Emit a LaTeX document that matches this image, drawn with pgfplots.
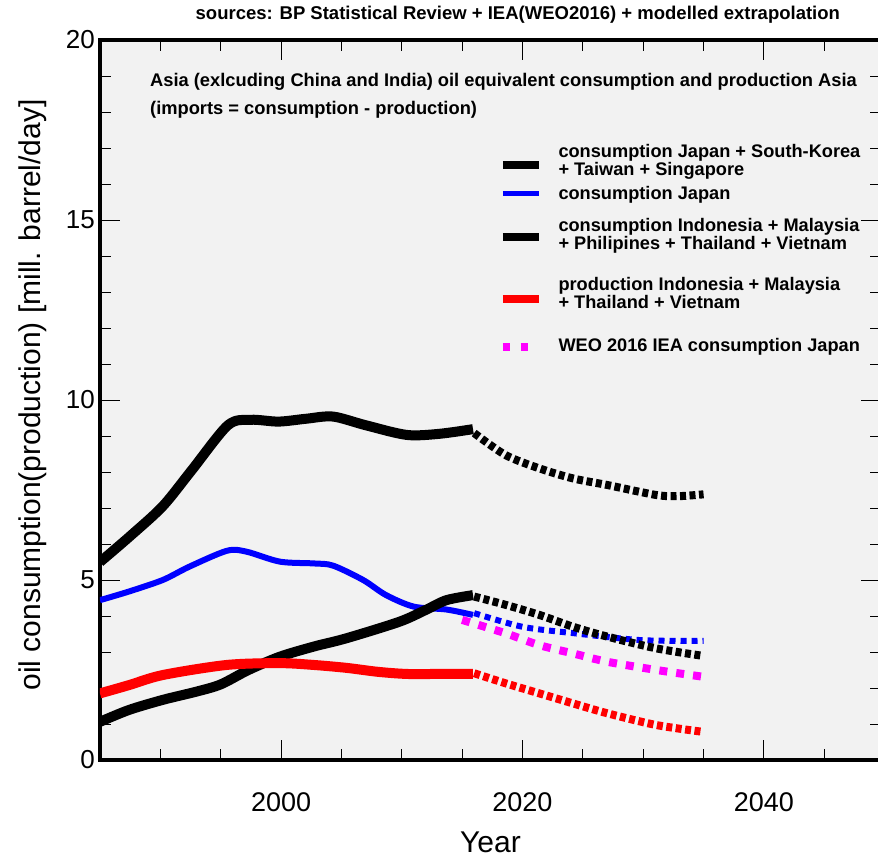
\documentclass[border=0pt]{standalone}
\usepackage{fontspec}
\setmainfont{Liberation Sans}
\usepackage{pgfplots}
\pgfplotsset{compat=1.18}
\definecolor{bgc}{RGB}{242,242,242}
\definecolor{mag}{RGB}{255,0,255}
\newcommand{\legfont}{\fontsize{18.2}{17.5}\selectfont\bfseries}
\begin{document}
\begin{tikzpicture}
\useasboundingbox (-100pt,-98pt) rectangle (778pt,760pt);
\begin{axis}[
  at={(0pt,0pt)}, anchor=south west,
  scale only axis, width=781pt, height=720pt,
  xmin=1985, xmax=2049.7, ymin=0, ymax=20,
  /pgf/number format/assume math mode=true,
  /pgf/number format/1000 sep={},
  axis background/.style={fill=bgc},
  axis line style={line width=4pt},
  tick align=inside,
  tick style={black, line width=0.9pt},
  major tick length=20pt, minor tick length=11pt,
  xtick={2000,2020,2040},
  minor xtick={1990,1995,2005,2010,2015,2025,2030,2035,2045},
  ytick={0,5,10,15,20},
  minor ytick={1,2,3,4,6,7,8,9,11,12,13,14,16,17,18,19},
  xticklabel style={font=\fontsize{27}{27}\selectfont, anchor=base, yshift=-52pt},
  yticklabel style={font=\fontsize{26}{26}\selectfont, anchor=east, inner xsep=0pt, xshift=-5pt},
  xlabel={Year},
  xlabel style={font=\fontsize{30}{30}\selectfont, at={(axis description cs:0.5,0)}, anchor=base, yshift=-93pt},
  ylabel={oil consumption(production) [mill. barrel/day]},
  ylabel style={font=\fontsize{30}{30}\selectfont, at={(axis description cs:-0.0858,0.507)}, anchor=center, rotate=0},
  title={sources: BP Statistical Review + IEA(WEO2016) + modelled extrapolation},
  title style={font=\fontsize{18.5}{18.5}\selectfont\bfseries, at={(axis description cs:0.535,1)}, anchor=base, yshift=14pt},
  clip mode=individual,
  legend style={at={(0.5109,0.8528)}, anchor=north west, draw=none, fill=none,
    inner sep=0pt, outer sep=0pt, row sep=0pt, column sep=16pt,
    font=\legfont, cells={anchor=west}, nodes={inner sep=0pt, text depth={}}},
  legend image code/.code={\draw[#1, line cap=butt] (0pt,0pt) -- (36pt,0pt);},
]
% historical
\addplot[forget plot, black, line width=10pt, smooth] coordinates {
(1985,5.5)(1987.5,6.22)(1990.2,7.05)(1992.6,8.05)(1995.6,9.3)(1997.5,9.45)(1999.8,9.4)(2002.1,9.48)(2004.3,9.54)(2007,9.3)(2010.4,9.03)(2013.1,9.06)(2015.9,9.19)};
\addplot[forget plot, blue, line width=6pt, smooth] coordinates {
(1985,4.44)(1987.4,4.68)(1990.2,5.0)(1992.4,5.37)(1995.5,5.81)(1997.1,5.79)(1999.9,5.51)(2002.7,5.46)(2004.3,5.40)(2006.8,5.0)(2008.7,4.58)(2011,4.26)(2013.7,4.18)(2015.9,4.03)};
\addplot[forget plot, black, line width=10pt, smooth] coordinates {
(1985,1.06)(1987.4,1.39)(1990.2,1.67)(1993,1.9)(1995,2.1)(1997.3,2.5)(1999.9,2.87)(2002.7,3.15)(2005.4,3.38)(2009.8,3.84)(2012,4.17)(2013.7,4.44)(2015.9,4.58)};
\addplot[forget plot, red, line width=10pt, smooth] coordinates {
(1985,1.85)(1987.4,2.08)(1990.2,2.36)(1995.5,2.64)(1999.9,2.69)(2002.7,2.64)(2005.4,2.56)(2008,2.45)(2010.4,2.39)(2013,2.39)(2015.9,2.39)};
% extrapolations
\addplot[forget plot, black, line width=8pt, dash pattern=on 6pt off 3.5pt, smooth] coordinates {
(2016,9.08)(2018.6,8.47)(2021.4,8.1)(2024.2,7.82)(2027,7.64)(2031.1,7.36)(2033,7.33)(2035,7.38)};
\addplot[forget plot, blue, line width=6pt, dash pattern=on 6pt off 5pt, smooth] coordinates {
(2016,4.08)(2020,3.70)(2024.3,3.52)(2029.8,3.33)(2035,3.31)};
\addplot[forget plot, black, line width=8pt, dash pattern=on 6pt off 3.5pt, smooth] coordinates {
(2016,4.54)(2018.6,4.31)(2021.4,4.03)(2024.2,3.70)(2027,3.43)(2031.1,3.1)(2035,2.89)};
\addplot[forget plot, mag, line width=8pt, dash pattern=on 8pt off 9pt, smooth] coordinates {
(2015,3.89)(2018.6,3.52)(2021.4,3.19)(2024.2,2.96)(2027,2.73)(2031.1,2.5)(2035,2.31)};
\addplot[forget plot, red, line width=8pt, dash pattern=on 6pt off 3.5pt, smooth] coordinates {
(2016,2.41)(2018.6,2.13)(2021.4,1.85)(2024.2,1.57)(2027,1.3)(2031.1,0.97)(2035,0.78)};
% legend
\addlegendimage{black, line width=7.5pt}
\addlegendentry{\raisebox{7pt}[19pt][19pt]{\vtop{\hbox{consumption Japan + South-Korea}\hbox{+ Taiwan + Singapore}}}}
\addlegendimage{blue, line width=5pt}
\addlegendentry{\raisebox{-5.3pt}[10pt][10pt]{consumption Japan}}
\addlegendimage{black, line width=7.5pt}
\addlegendentry{\raisebox{5pt}[33pt][33pt]{\vtop{\hbox{consumption Indonesia + Malaysia}\hbox{+ Philipines + Thailand + Vietnam}}}}
\addlegendimage{red, line width=7.5pt}
\addlegendentry{\raisebox{8pt}[29pt][29pt]{\vtop{\hbox{production Indonesia + Malaysia}\hbox{+ Thailand + Vietnam}}}}
\addlegendimage{mag, line width=7.5pt, dash pattern=on 7pt off 11pt}
\addlegendentry{\raisebox{-4.3pt}[19pt][19pt]{WEO 2016 IEA consumption Japan}}
% annotation
\node[anchor=base west, font=\fontsize{18.3}{18.3}\selectfont\bfseries, inner sep=0pt] at (rel axis cs:0.064,0.935) {Asia (exlcuding China and India) oil equivalent consumption and production Asia};
\node[anchor=base west, font=\fontsize{18.3}{18.3}\selectfont\bfseries, inner sep=0pt] at (rel axis cs:0.064,0.897) {(imports = consumption - production)};
\end{axis}
\end{tikzpicture}
\end{document}
